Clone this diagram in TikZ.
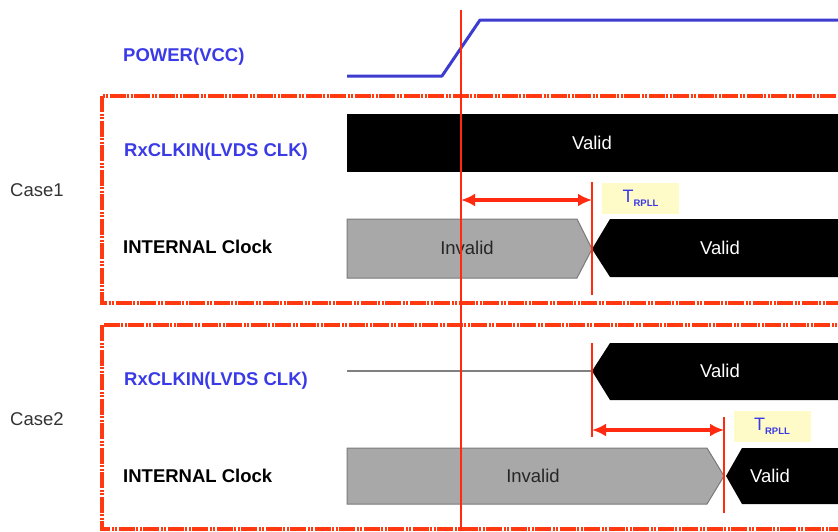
\documentclass[tikz,border=0pt]{standalone}
\usepackage{fontspec}
\setmainfont{Liberation Sans}
\usetikzlibrary{arrows.meta}
\definecolor{pwrblue}{HTML}{3C3CD0}
\definecolor{lblblue}{HTML}{3A3AE6}
\definecolor{boxred}{HTML}{FF3A10}
\definecolor{vred}{HTML}{FF2A10}
\definecolor{invgray}{HTML}{A8A8A8}
\definecolor{invedge}{HTML}{7A7A7A}
\definecolor{tbg}{HTML}{FFFBC8}
\definecolor{sigline}{HTML}{808080}
\tikzset{
  lbl/.style={font=\fontsize{18.5}{22}\selectfont\bfseries, anchor=west, inner sep=0pt},
  bluelbl/.style={lbl, text=lblblue},
  caselbl/.style={font=\fontsize{18.5}{22}\selectfont, anchor=west, inner sep=0pt, text=black!80},
  casebox/.style={draw=boxred, line width=3.2pt, dash pattern=on 16pt off 1.5pt on 2pt off 1.5pt on 2pt off 1.5pt},
  vline/.style={draw=vred, line width=1.8pt},
  dimarrow/.style={draw=vred, line width=3.4pt, {Latex[length=14pt,width=13pt]}-{Latex[length=14pt,width=13pt]}},
  validbar/.style={fill=black},
  invbar/.style={fill=invgray, draw=invedge, line width=1pt},
  wtxt/.style={text=white, font=\fontsize{18.5}{22}\selectfont, inner sep=0pt},
  itxt/.style={text=black!85, font=\fontsize{18.5}{22}\selectfont, inner sep=0pt},
  tlabel/.style={fill=tbg, text=lblblue, minimum width=77pt, minimum height=31pt, inner sep=0pt, font=\fontsize{18}{20}\selectfont},
  pwr/.style={draw=pwrblue, line width=3pt, line join=round},
  idle/.style={draw=sigline, line width=1.4pt}
}
\newcommand{\trpll}{T\raisebox{-4pt}{\fontsize{9.5}{9.5}\selectfont\bfseries RPLL}}
\begin{document}
\begin{tikzpicture}[x=1pt,y=-1pt]
\useasboundingbox (0,0) rectangle (838,531);
\clip (0,0) rectangle (838,531);

% case boxes
\draw[casebox] (102,96) rectangle (850,303);
\draw[casebox] (102,325) rectangle (850,529);

% labels
\node[bluelbl] (pwrlbl) at (123,57) {POWER(VCC)};
\node[caselbl] (case1) at (10,190) {Case1};
\node[bluelbl] (rx1lbl) at (124,152) {RxCLKIN(LVDS CLK)};
\node[lbl] (int1lbl) at (123,247) {INTERNAL Clock};
\node[caselbl] (case2) at (10,419) {Case2};
\node[bluelbl] (rx2lbl) at (124,381) {RxCLKIN(LVDS CLK)};
\node[lbl] (int2lbl) at (123,476) {INTERNAL Clock};

% power waveform
\draw[pwr] (347,76) -- (442,76) -- (480,20) -- (850,20);

% case1 RxCLKIN valid
\fill[validbar] (347,114) rectangle (850,172);
\node[wtxt] (rx1valid) at (592,143) {Valid};

% case1 internal clock
\coordinate (t1) at (592,249);
\draw[invbar] (347,219) -- (577,219) -- (t1) -- (577,278) -- (347,278) -- cycle;
\node[itxt] (int1inv) at (467,248) {Invalid};
\fill[validbar] (t1) -- (610,219) -- (850,219) -- (850,277) -- (610,277) -- cycle;
\node[wtxt] (int1valid) at (720,248) {Valid};

% case2 RxCLKIN
\coordinate (r2s) at (347,371);
\coordinate (t2) at (592,371);
\draw[idle] (r2s) -- (t2);
\fill[validbar] (t2) -- (610,343) -- (850,343) -- (850,400) -- (610,400) -- cycle;
\node[wtxt] (rx2valid) at (720,371) {Valid};

% case2 internal clock
\coordinate (t3) at (724,476);
\draw[invbar] (347,448) -- (707,448) -- (t3) -- (707,504) -- (347,504) -- cycle;
\node[itxt] (int2inv) at (533,476) {Invalid};
\fill[validbar] (726,476) -- (742,448) -- (850,448) -- (850,504) -- (742,504) -- cycle;
\node[wtxt] (int2valid) at (770,476) {Valid};

% red vertical markers
\coordinate (v1top) at (461,10);
\coordinate (v1bot) at (461,531);
\draw[vline] (v1top) -- (v1bot);
\coordinate (v2top) at (592,182);
\coordinate (v2bot) at (592,295);
\draw[vline] (v2top) -- (v2bot);
\coordinate (v3top) at (592,343);
\coordinate (v3bot) at (592,437);
\draw[vline] (v3top) -- (v3bot);
\coordinate (v4top) at (724,417);
\coordinate (v4bot) at (724,513);
\draw[vline] (v4top) -- (v4bot);

% dimension arrows
\coordinate (a1l) at (461,200);
\coordinate (a1r) at (592,200);
\draw[dimarrow] (a1l) -- (a1r);
\coordinate (a2l) at (592,430);
\coordinate (a2r) at (724,430);
\draw[dimarrow] (a2l) -- (a2r);

% T_RPLL labels
\node[tlabel] (trpll1) at (640.5,198.5) {\trpll};
\node[tlabel] (trpll2) at (772,426.5) {\trpll};
\end{tikzpicture}
\end{document}
